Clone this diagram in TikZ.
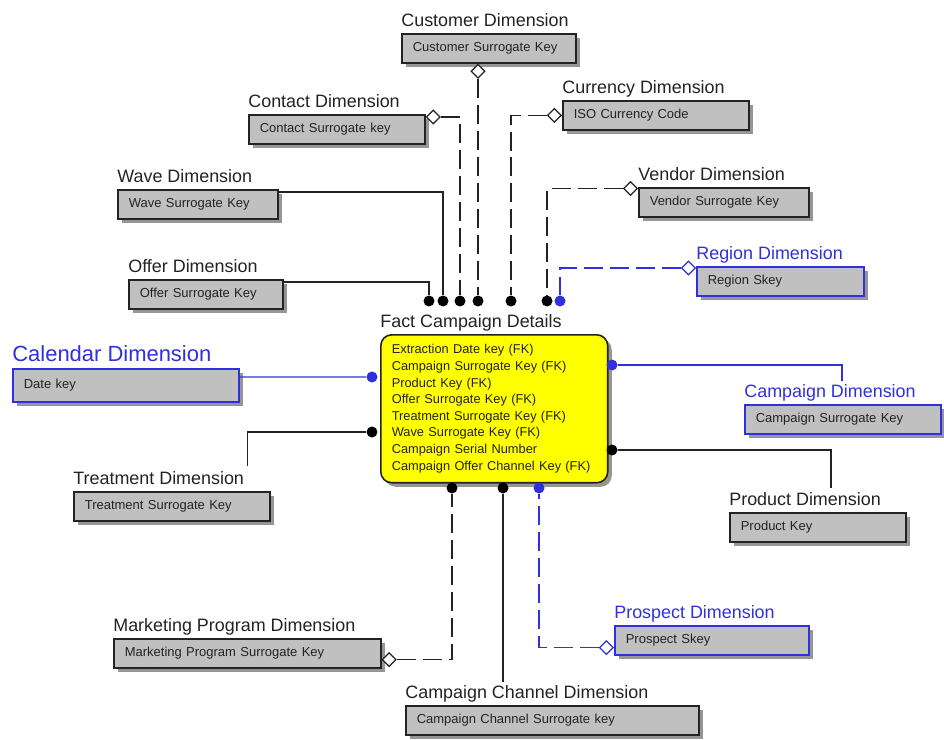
\documentclass[tikz,border=0pt]{standalone}
\usepackage{fontspec}
\setmainfont{Liberation Sans}
\usetikzlibrary{shapes.geometric,positioning,shadows}
\definecolor{erblue}{RGB}{48,48,220}
\definecolor{ergray}{RGB}{192,192,192}
\definecolor{erline}{RGB}{35,35,35}
\definecolor{ershadow}{RGB}{150,150,150}
\definecolor{erfact}{RGB}{255,255,0}

\begin{document}
\begin{tikzpicture}[x=0.02cm,y=-0.02cm,
    keybox/.style={draw=erline,fill=ergray,line width=0.9pt,anchor=north west,
                   inner xsep=0.22cm,inner ysep=0pt,text width=#1,minimum height=0.58cm,
                   font=\fontsize{7.4}{9}\selectfont,text=erline,
                   drop shadow={shadow xshift=0.08cm,shadow yshift=-0.08cm,fill=ershadow,opacity=1}},
    bluebox/.style={keybox=#1,draw=erblue},
    ttl/.style={inner sep=0pt,font=\fontsize{10.2}{12}\selectfont,text=erline},
    bttl/.style={ttl,text=erblue},
    fact/.style={draw=erline,fill=erfact,line width=0.9pt,rounded corners=0.22cm,
                 anchor=north west,inner xsep=0.22cm,text width=4.1cm,minimum height=2.96cm,
                 align=left,font=\fontsize{7.3}{9.45}\selectfont,text=erline,
                 drop shadow={shadow xshift=0.08cm,shadow yshift=-0.08cm,fill=ershadow,opacity=1}},
    dot/.style={circle,fill=black,inner sep=0pt,minimum size=0.22cm},
    bdot/.style={dot,fill=erblue},
    dia/.style={diamond,draw=erline,fill=white,line width=0.7pt,inner sep=0pt,
                minimum width=0.28cm,minimum height=0.28cm},
    rel/.style={line width=0.7pt,erline},
    brel/.style={line width=0.7pt,erblue},
    dsh/.style={dash pattern=on 0.38cm off 0.14cm}
  ]
    \fill[white] (0,0) rectangle (944,740);
    \useasboundingbox (0,0) rectangle (944,740);

    % fact table
    \node[fact] (fact) at (380,334) {Extraction Date key (FK)\\Campaign Surrogate Key (FK)\\
      Product Key (FK)\\Offer Surrogate Key (FK)\\Treatment Surrogate Key (FK)\\
      Wave Surrogate Key (FK)\\Campaign Serial Number\\Campaign Offer Channel Key (FK)};
    \node[ttl,above=0.14cm of fact.north west,anchor=base west] (factT) {Fact Campaign Details};

    % dimensions
    \node[keybox=3.04cm] (cust) at (401,33) {Customer Surrogate Key};
    \node[ttl,above=0.13cm of cust.north west,anchor=base west] (custT) {Customer Dimension};
    \node[keybox=3.28cm] (cur) at (562,100) {ISO Currency Code};
    \node[ttl,above=0.13cm of cur.north west,anchor=base west] (curT) {Currency Dimension};
    \node[keybox=3.08cm] (con) at (248,114) {Contact Surrogate key};
    \node[ttl,above=0.13cm of con.north west,anchor=base west] (conT) {Contact Dimension};
    \node[keybox=2.76cm] (wave) at (117,189) {Wave Surrogate Key};
    \node[ttl,above=0.13cm of wave.north west,anchor=base west] (waveT) {Wave Dimension};
    \node[keybox=2.64cm] (offer) at (128,279) {Offer Surrogate Key};
    \node[ttl,above=0.13cm of offer.north west,anchor=base west] (offerT) {Offer Dimension};
    \node[keybox=2.96cm] (ven) at (638,187) {Vendor Surrogate Key};
    \node[ttl,above=0.13cm of ven.north west,anchor=base west] (venT) {Vendor Dimension};
    \node[bluebox=2.90cm] (reg) at (696,266) {Region Skey};
    \node[bttl,above=0.13cm of reg.north west,anchor=base west] (regT) {Region Dimension};
    \node[bluebox=4.08cm,minimum height=0.66cm] (cal) at (12,368) {Date key};
    \node[bttl,font=\fontsize{12.5}{14}\selectfont,above=0.14cm of cal.north west,anchor=base west]
      (calT) {Calendar Dimension};
    \node[bluebox=3.48cm] (cmp) at (744,404) {Campaign Surrogate Key};
    \node[bttl,above=0.13cm of cmp.north west,anchor=base west] (cmpT) {Campaign Dimension};
    \node[keybox=3.48cm] (trt) at (73,491) {Treatment Surrogate Key};
    \node[ttl,above=0.13cm of trt.north west,anchor=base west] (trtT) {Treatment Dimension};
    \node[keybox=3.08cm] (prd) at (729,512) {Product Key};
    \node[ttl,above=0.13cm of prd.north west,anchor=base west] (prdT) {Product Dimension};
    \node[keybox=4.90cm] (mkt) at (113,638) {Marketing Program Surrogate Key};
    \node[ttl,above=0.13cm of mkt.north west,anchor=base west] (mktT) {Marketing Program Dimension};
    \node[bluebox=3.44cm] (prs) at (614,625) {Prospect Skey};
    \node[bttl,above=0.13cm of prs.north west,anchor=base west] (prsT) {Prospect Dimension};
    \node[keybox=5.42cm] (chn) at (405,705) {Campaign Channel Surrogate key};
    \node[ttl,above=0.13cm of chn.north west,anchor=base west] (chnT) {Campaign Channel Dimension};

    % key dots on the fact table
    \node[dot] (dOffer) at (429,301) {};
    \node[dot] (dWave) at (443,301) {};
    \node[dot] (dCon) at (460,301) {};
    \node[dot] (dCust) at (478,301) {};
    \node[dot] (dCur) at (511,301) {};
    \node[dot] (dVen) at (547,301) {};
    \node[bdot] (dReg) at (560,301) {};
    \node[bdot] (dCal) at (372,377) {};
    \node[dot] (dTrt) at (372,432) {};
    \node[bdot] (dCmp) at (612,365) {};
    \node[dot] (dPrd) at (612,450) {};
    \node[dot] (dMkt) at (452,488) {};
    \node[dot] (dChn) at (503,488) {};
    \node[bdot] (dPrs) at (539,488) {};

    % optional ends
    \node[dia,anchor=north] (custD) at (cust.south -| dCust) {};
    \node[dia,anchor=east] (curD) at (cur.west) {};
    \node[dia,anchor=west] (conD) at ([yshift=-0.06cm]con.north east) {};
    \node[dia,anchor=east] (venD) at ([yshift=-0.03cm]ven.north west) {};
    \node[dia,draw=erblue,anchor=east] (regD) at ([yshift=-0.04cm]reg.north west) {};
    \node[dia,anchor=west] (mktD) at ([yshift=0.18cm]mkt.south east) {};
    \node[dia,draw=erblue,anchor=east] (prsD) at ([yshift=0.16cm]prs.south west) {};

    % relationships
    \draw[rel,dsh] (custD) -- (dCust);
    \draw[rel,dsh] (curD) -| (dCur);
    \draw[rel,dsh] (conD) -| (dCon);
    \draw[rel] ([yshift=-0.06cm]wave.north east) -| (dWave);
    \draw[rel] ([yshift=-0.06cm]offer.north east) -| (dOffer);
    \draw[rel,dsh] (venD) -| (dVen);
    \draw[brel,dsh] (regD) -| (dReg);
    \draw[brel] ([yshift=-0.18cm]cal.north east) -- (dCal);
    \draw[rel] (dTrt) -| ([xshift=0.06cm,yshift=0.1cm]trtT.north east);
    \draw[brel] (dCmp) -| ([xshift=0.24cm,yshift=0.06cm]cmpT.north);
    \draw[rel] (dPrd) -| ([xshift=0.52cm,yshift=0.08cm]prdT.north);
    \draw[rel,dsh] (mktD) -| (dMkt);
    \draw[rel] (dChn) -- ([yshift=0.06cm]dChn |- chnT.north);
    \draw[brel,dsh] (prsD) -| (dPrs);
\end{tikzpicture}
\end{document}
